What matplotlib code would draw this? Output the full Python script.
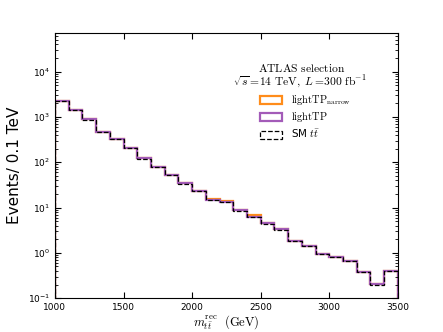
import numpy as np
import matplotlib
matplotlib.use("Agg")
import matplotlib.pyplot as plt
from matplotlib.patches import Patch

# ── Data (events per 0.1 TeV) ─────────────────────────────────────────────────
bin_edges = [1000, 1100, 1200, 1300, 1400, 1500, 1600, 1700, 1800, 1900,
             2000, 2100, 2200, 2300, 2400, 2500, 2600, 2700, 2800, 2900,
             3000, 3100, 3200, 3300, 3400, 3500]

sm_tt = [2220, 1406, 876, 466, 327, 207, 121, 77.6, 51.6, 33.9,
         22.9, 14.7, 13.1, 8.6, 6.2, 4.43, 3.27, 1.80, 1.42, 0.93,
         0.81, 0.66, 0.37, 0.20, 0.39]

light_tp = [2230, 1410, 880, 468, 328, 208, 122, 78.0, 51.9, 34.1,
            23.0, 14.9, 13.3, 8.7, 6.3, 4.48, 3.30, 1.83, 1.44, 0.96,
            0.82, 0.67, 0.375, 0.205, 0.40]

light_tp_narrow = [2230, 1410, 880, 468, 328, 208, 122, 78.0, 51.9, 34.1,
                   23.0, 15.5, 13.8, 9.0, 7.0, 4.66, 3.30, 1.87, 1.44, 0.965,
                   0.82, 0.67, 0.375, 0.205, 0.39]

label_narrow = r"$\mathrm{lightTP}_{\mathrm{narrow}}$"
label_light = r"$\mathrm{lightTP}$"
label_sm = r"SM $t\bar{t}$"

ORANGE = "#ff8c1a"
PURPLE = "#a35bb8"

# ── Plot ──────────────────────────────────────────────────────────────────────
fig = plt.figure(figsize=(4.43, 3.32), dpi=100)
ax = fig.add_axes([0.124, 0.102, 0.774, 0.799])

ax.stairs(light_tp_narrow, bin_edges, color=ORANGE, linewidth=1.6)
ax.stairs(light_tp, bin_edges, color=PURPLE, linewidth=1.6)
ax.stairs(sm_tt, bin_edges, color="black", linewidth=0.9, linestyle="--")

ax.set_yscale("log")
ax.set_xlim(1000, 3500)
ax.set_ylim(0.1, 7.2e4)
ax.set_xticks([1000, 1500, 2000, 2500, 3000, 3500])

ax.tick_params(which="both", direction="in", top=True, right=True,
               labelsize=6.5)
ax.tick_params(which="major", length=4)
ax.tick_params(which="minor", length=2)

ax.set_ylabel("Events/ 0.1 TeV", fontsize=11)
xl = ax.set_xlabel(r"$m_{t\bar{t}}^{\mathrm{rec}}\ \ (\mathrm{GeV})$",
                   fontsize=9, labelpad=1)
xl.set_math_fontfamily("cm")

ax.text(0.72, 0.853, r"$\mathrm{ATLAS\ selection}$", transform=ax.transAxes,
        ha="center", va="baseline", fontsize=8.3, math_fontfamily="cm")
ax.text(0.715, 0.803, r"$\sqrt{s}=\!14\ \mathrm{TeV},\ L=\!300\ \mathrm{fb}^{-1}$",
        transform=ax.transAxes, ha="center", va="baseline", fontsize=8.3,
        math_fontfamily="cm")

handles = [
    Patch(facecolor="none", edgecolor=ORANGE, linewidth=1.6),
    Patch(facecolor="none", edgecolor=PURPLE, linewidth=1.6),
    Patch(facecolor="none", edgecolor="black", linewidth=0.9, linestyle="--"),
]
leg = ax.legend(handles, [label_narrow, label_light, label_sm],
                loc="upper left", bbox_to_anchor=(0.598, 0.772), frameon=False,
                fontsize=7.5, handlelength=2.1, handleheight=0.8,
                handletextpad=0.85, labelspacing=0.3, borderpad=0,
                borderaxespad=0)
for t in leg.get_texts():
    t.set_math_fontfamily("cm")

fig.savefig("out.png", dpi=100)
